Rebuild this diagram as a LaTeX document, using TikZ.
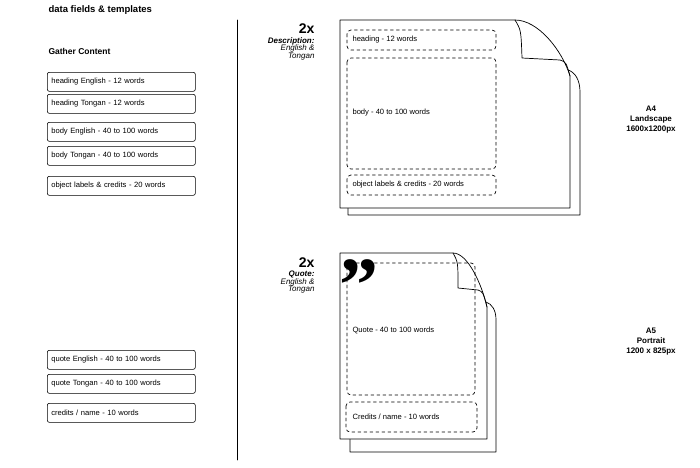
\documentclass[tikz,border=0pt]{standalone}
\usepackage{fontspec}
\setmainfont{Liberation Sans}
\newfontfamily\quotefont{Liberation Serif}
\usetikzlibrary{positioning}
\tikzset{
  every picture/.style={line cap=round, line join=round},
  every node/.style={font=\fontsize{7.6}{9}\selectfont},
  field/.style={draw, rounded corners=2pt, line width=0.6pt, minimum width=148pt,
    minimum height=19pt, anchor=north west, inner xsep=4pt, text width=140pt, align=left},
  slot/.style={draw, dashed, rounded corners=4pt, line width=0.7pt},
  slotlabel/.style={anchor=west},
  page/.style={draw, fill=white, line width=0.7pt},
  title/.style={font=\bfseries\fontsize{9.5}{10}\selectfont, anchor=west},
  tag/.style={align=right, anchor=north east, font=\itshape\bfseries\fontsize{8}{8.5}\selectfont},
  fmt/.style={align=center, font=\bfseries\fontsize{8}{10}\selectfont}
}
\begin{document}
\begin{tikzpicture}[x=1pt,y=-1pt]
  \useasboundingbox (0,0) rectangle (700,467);

  % Headings
  \node[title] (title) at (45,10) {data fields \& templates};
  \node[title, font=\bfseries\fontsize{8.5}{9}\selectfont] (gather) at (45,51) {Gather Content};
  \draw[line width=0.7pt] (237,20) -- (237,460);

  % Gather content fields
  \node[field] (hen) at (47,72) {heading English - 12 words};
  \node[field] (hto) at (47,94) {heading Tongan - 12 words};
  \node[field] (ben) at (47,122) {body English - 40 to 100 words};
  \node[field] (bto) at (47,146) {body Tongan - 40 to 100 words};
  \node[field] (obj) at (47,176) {object labels \& credits - 20 words};
  \node[field] (qen) at (47,350) {quote English - 40 to 100 words};
  \node[field] (qto) at (47,374) {quote Tongan - 40 to 100 words};
  \node[field] (cre) at (47,403) {credits / name - 10 words};

  % A4 template, back and front sheet
  \draw[page] (348,80) -- (348,215) -- (580,215) -- (580,92) .. controls (580,80) and (575,72) .. (568,70);
  \draw[page] (340,20) -- (515,20) .. controls (538,20) and (562,50) .. (570,76) -- (570,208) -- (340,208) -- cycle;
  \draw[line width=0.7pt] (515,20) .. controls (521,30) .. (522,58) -- (560,60) .. controls (566,62) .. (570,76);
  \draw[slot] (347,30) rectangle (496,50);
  \draw[slot] (347,58) rectangle (496,169);
  \draw[slot] (347,175) rectangle (496,195);
  \node[slotlabel] (a4h) at (349,40) {heading - 12 words};
  \node[slotlabel] (a4b) at (349,113) {body - 40 to 100 words};
  \node[slotlabel] (a4o) at (349,185) {object labels \& credits - 20 words};
  \node[font=\bfseries\fontsize{14}{14}\selectfont, anchor=north east] (twoa) at (318,20) {2x};
  \node[tag] (desc) [below=-3pt of twoa.south east, anchor=north east] {Description:\\[-1pt]\mdseries English \&\\[-1pt]\mdseries Tongan};
  \node[fmt] (a4) at (651,120) {A4\\Landscape\\1600x1200px};

  % A5 template, back and front sheet
  \draw[page] (350,300) -- (350,452) -- (496,452) -- (496,320) .. controls (496,310) and (492,304) .. (486,302);
  \draw[page] (340,253) -- (453,253) .. controls (468,253) and (482,285) .. (487,307) -- (487,439) -- (340,439) -- cycle;
  \draw[line width=0.7pt] (453,253) .. controls (458,262) .. (458,288) -- (478,290) .. controls (483,292) .. (487,307);
  \draw[slot] (347,263) rectangle (475,395);
  \draw[slot] (346,402) rectangle (477,432);
  \node[font=\quotefont\bfseries\fontsize{78}{78}\selectfont, anchor=north west, inner sep=0pt] (qmark) at (339,259) {”};
  \node[slotlabel] (a5q) at (349,330) {Quote - 40 to 100 words};
  \node[slotlabel] (a5c) at (349,417) {Credits / name - 10 words};
  \node[font=\bfseries\fontsize{14}{14}\selectfont, anchor=north east] (twob) at (318,254) {2x};
  \node[tag] (quote) [below=-3pt of twob.south east, anchor=north east] {Quote:\\[-1pt]\mdseries English \&\\[-1pt]\mdseries Tongan};
  \node[fmt] (a5) at (651,342) {A5\\Portrait\\1200 x 825px};
\end{tikzpicture}
\end{document}
